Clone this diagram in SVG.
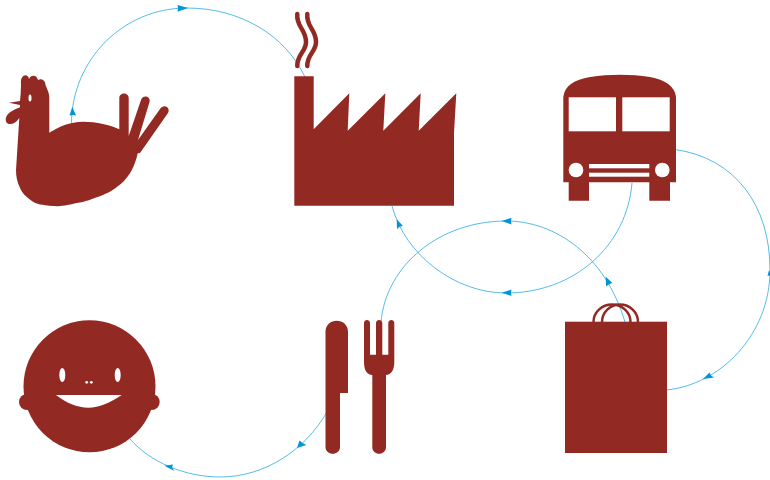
<svg xmlns="http://www.w3.org/2000/svg" width="770" height="480" viewBox="0 0 770 480">
<style>
.n{fill:#922a23}
.w{fill:#fff}
.s{fill:none;stroke:#922a23;stroke-linecap:round;stroke-linejoin:round}
.c{fill:none;stroke:#29abe2;stroke-width:.8}
.a{fill:#0095da}
</style>
<g id="connectors">
<path class="c" d="M71.500 124C71.500 60 123 8 187 8C240 8 285 35 305 77"/>
<path class="a" d="M72.300 106.700L76 115.500L72.800 115L69.500 115.500Z"/>
<path class="a" d="M188 8L177.500 5L178 8.500L177.500 11.700Z"/>
<path class="c" d="M675 149.500C735 158 770 205 770 270C770 335 720 385 666 390"/>
<path class="a" d="M703 379L709.500 372.500L711 375.500L714 377.500Z"/>
<path class="a" d="M769 270L772 276L769 275.500L767.500 276Z"/>
<path class="c" d="M632 183C627 245 575 293 506 293C455 293 405 255 392 206"/>
<path class="a" d="M501.700 292.700L511.500 289.500L511 292.800L511.500 296Z"/>
<path class="a" d="M396.700 219.300L403 226L400 226.500L397 229Z"/>
<path class="c" d="M625 322C605 255 555 221 506 221C440 221 386 265 381 322"/>
<path class="a" d="M501.700 221L511.500 217.800L511 221L511.500 224.500Z"/>
<path class="a" d="M605.700 276.700L612.500 283L609.500 284L606 286.500Z"/>
<path class="c" d="M327 412C305 450 265 477 220 477C185 477 150 462 130 439"/>
<path class="a" d="M297 448L299.500 440.500L302.500 443L306.500 445Z"/>
<path class="a" d="M164.300 465.700L173 464.500L172 467.500L174.500 471Z"/>
</g>
<g id="chicken">
<path class="n" d="M21 84C20 74 28 73 29 79C31 74 37 75 38 80C42 78 45.500 81 45.500 85C47 89 49 92 49.300 97L49.300 132.700C58 127 70 121.700 83 121.700C97 121.700 110 125 119.300 129.300L119.300 98C119.300 92 128.700 92 128.700 98L128.700 136L141 100C143 94 151 96 149.500 102L138 140L160 109C164 103 171 108 168 113L140 153L137.700 153.300C135 166 130 175 123 182C115 189 110 192 103 195C92 199 85 202 76.700 203C65 206 58 206.500 53 206C42 205 36 204 33 201.700C26 197 22 193 20 188C17 182 16 176 16 170L19.300 118C15 124.500 9 125.500 6.500 122.500C4 118 8 113 12 111C15 109.500 18 108 20 107.300L20 105L9 102.700L20 101L20.700 93Z"/>
<ellipse class="w" cx="30" cy="98" rx="1.500" ry="3.500"/>
</g>
<g id="factory">
<path class="n" d="M294.300 76.300L313.700 76.300L313.700 129.300L349.300 93.300L347.700 130.700L385.300 93.300L383.300 130.700L420.700 93.300L418.700 130.700L456.300 93.300L454 133L454 205.700L294.300 205.700Z"/>
<path class="s" stroke-width="4.500" d="M297.300 14C296 27 306 29 306 42C306 52 297 54 297.300 66"/>
<path class="s" stroke-width="4.500" d="M307.300 14C306 27 316 29 316 42C316 52 307 54 307.300 66"/>
</g>
<g id="bus">
<path class="n" d="M563.300 182.300L563.300 97C565 85 574 80 590 77C610 74 630 74 650 77C665 80 675 86 676 97L676 182.300L670 182.300L670 200.700L649.300 200.700L649.300 182.300L589 182.300L589 200.700L568.700 200.700L568.700 182.300Z"/>
<rect class="w" x="568.700" y="97.300" width="47.300" height="34"/>
<rect class="w" x="622.300" y="97.300" width="47.400" height="34"/>
<circle class="w" cx="576" cy="170" r="7.300"/>
<circle class="w" cx="662.300" cy="170" r="7.300"/>
<rect class="w" x="589" y="164" width="60.300" height="4.300"/>
<rect class="w" x="589" y="172.700" width="60.300" height="4"/>
</g>
<g id="bag">
<rect class="n" x="565" y="321.700" width="102" height="131.300"/>
<path class="s" stroke-width="2.500" d="M593.500 322A18.500 17.500 0 0 1 630.500 322"/>
<path class="s" stroke-width="2.500" d="M602 322A18 17.500 0 0 1 638 322"/>
</g>
<g id="cutlery">
<path class="n" d="M325.500 332C325.500 317 348 317 348 332L348 393L340 393L340 447C340 456 325.500 456 325.500 447Z"/>
<path class="n" d="M364 323C364 319 370 319 370 323L370 354.700L376 354.700L376 323C376 319 382.300 319 382.300 323L382.300 354.700L388.300 354.700L388.300 323C388.300 319 394.300 319 394.300 323L394.300 362C394.300 370 391 375 386 375L386 447C386 456 372.300 456 372.300 447L372.300 375C367 375 364 370 364 362Z"/>
</g>
<g id="face">
<circle class="n" cx="89.500" cy="386.300" r="66"/>
<circle class="n" cx="27" cy="402" r="8"/>
<circle class="n" cx="151.700" cy="402" r="8"/>
<ellipse class="w" cx="62.300" cy="375" rx="3" ry="7"/>
<ellipse class="w" cx="117.700" cy="375" rx="3" ry="7"/>
<circle class="w" cx="86.700" cy="382.300" r="1.400"/>
<circle class="w" cx="91.300" cy="382.300" r="1.400"/>
<path class="w" d="M56 395L121.700 395C110 403 99 407.700 88.500 407.700C77 407.700 66 403 56 395Z"/>
</g>
</svg>
